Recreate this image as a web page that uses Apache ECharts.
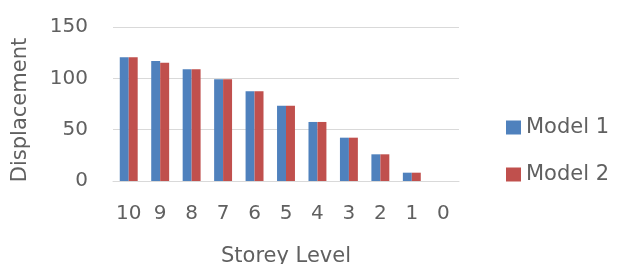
<!DOCTYPE html>
<html>
<head>
<meta charset="utf-8">
<script src="https://cdn.jsdelivr.net/npm/echarts@6/dist/echarts.min.js"></script>
<style>
  html, body { margin: 0; padding: 0; background: #fff; }
  #chart { width: 621px; height: 264px; }
</style>
</head>
<body>
<div id="chart"></div>
<script>
// storey levels, top down
var storeys = ['10', '9', '8', '7', '6', '5', '4', '3', '2', '1', '0'];
var model1 = [120.5, 116.8, 108.8, 99, 87.3, 73.3, 57.5, 42.2, 26, 8.1, 0];
var model2 = [120.5, 115.2, 108.8, 99, 87.3, 73.3, 57.5, 42.2, 26, 8.1, 0];
var yTicks = { min: 0, max: 150, interval: 50 };

var txtColor = '#606060';
var font = 'DejaVu Sans';

var chart = echarts.init(document.getElementById('chart'));
var option = {
  animation: false,
  grid: {
    left: 113,
    right: 162,
    top: 27,
    bottom: 83,
    outerBoundsMode: 'none'
  },
  legend: {
    data: ['Model 1', 'Model 2'],
    orient: 'vertical',
    left: 506,
    top: 117,
    padding: 0,
    itemWidth: 15,
    itemHeight: 14,
    itemGap: 26,
    icon: 'rect',
    textStyle: {
      color: txtColor,
      fontSize: 21,
      fontFamily: font
    }
  },
  xAxis: {
    type: 'category',
    data: storeys,
    name: 'Storey Level',
    nameLocation: 'middle',
    nameGap: 65,
    nameTextStyle: { color: txtColor, fontSize: 21, fontFamily: font },
    axisLine: { lineStyle: { color: '#d9d9d9' } },
    axisTick: { show: false },
    axisLabel: { color: txtColor, fontSize: 20, fontFamily: font, margin: 23, interval: 0 }
  },
  yAxis: {
    type: 'value',
    min: yTicks.min,
    max: yTicks.max,
    interval: yTicks.interval,
    name: 'Displacement',
    nameLocation: 'middle',
    nameGap: 82,
    nameTextStyle: { color: txtColor, fontSize: 21, fontFamily: font, padding: [0, 12, 0, 0] },
    axisLine: { show: false },
    axisTick: { show: false },
    axisLabel: { color: txtColor, fontSize: 20, fontFamily: font, margin: 25 },
    splitLine: { lineStyle: { color: '#d9d9d9' } }
  },
  series: [
    {
      name: 'Model 1',
      type: 'bar',
      data: model1,
      barGap: '0%',
      barCategoryGap: '43%',
      itemStyle: { color: '#4F81BD' }
    },
    {
      name: 'Model 2',
      type: 'bar',
      data: model2,
      barGap: '0%',
      barCategoryGap: '43%',
      itemStyle: { color: '#C0504D' }
    }
  ]
};
chart.setOption(option);
</script>
</body>
</html>
